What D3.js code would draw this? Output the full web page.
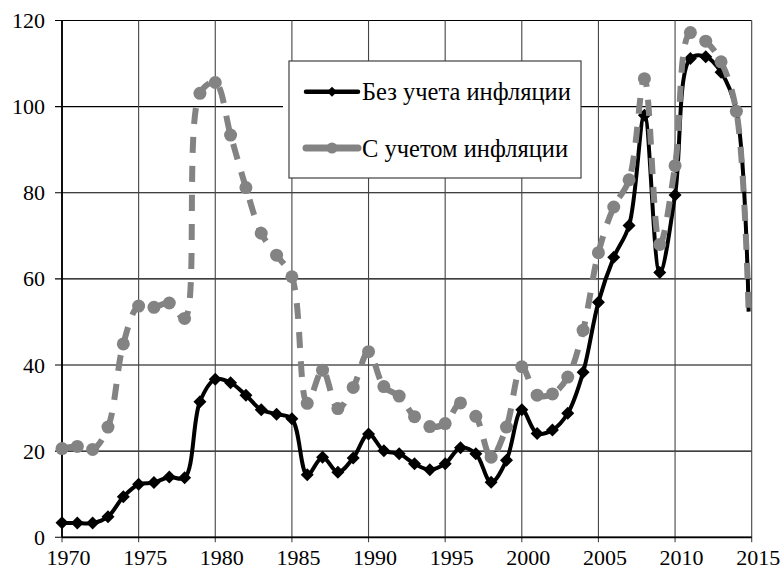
<!DOCTYPE html>
<html>
<head>
<meta charset="utf-8">
<script src="https://cdn.jsdelivr.net/npm/d3@7"></script>
<style>
    body { margin: 0; background: #fff; }
    svg { display: block; }
</style>
</head>
<body>
<div id="content"></div>
<script>
// ******* DATA *******
// last point is the partial year (no marker drawn for it)
const years = [
    1970, 1971, 1972, 1973, 1974, 1975, 1976, 1977, 1978, 1979,
    1980, 1981, 1982, 1983, 1984, 1985, 1986, 1987, 1988, 1989,
    1990, 1991, 1992, 1993, 1994, 1995, 1996, 1997, 1998, 1999,
    2000, 2001, 2002, 2003, 2004, 2005, 2006, 2007, 2008, 2009,
    2010, 2011, 2012, 2013, 2014, 2014.8
];

// без учета инфляции
const nominalPrice = [
    3.4, 3.3, 3.3, 4.8, 9.4, 12.3, 12.7, 14.0, 13.8, 31.5,
    36.7, 35.9, 33.0, 29.6, 28.6, 27.5, 14.5, 18.6, 15.1, 18.4,
    24.0, 20.1, 19.4, 17.1, 15.7, 17.1, 20.8, 19.4, 12.8, 17.9,
    29.6, 24.1, 24.9, 28.8, 38.3, 54.6, 65.0, 72.4, 98.0, 61.5,
    79.5, 111.2, 111.6, 108.0, 99.0, 52.4
];

// с учетом инфляции
const realPrice = [
    20.6, 21.1, 20.4, 25.6, 44.9, 53.7, 53.4, 54.4, 50.8, 103.1,
    105.6, 93.4, 81.2, 70.6, 65.5, 60.5, 31.1, 38.8, 29.9, 34.8,
    43.1, 35.0, 32.8, 28.0, 25.7, 26.4, 31.2, 28.1, 18.6, 25.6,
    39.6, 33.0, 33.3, 37.2, 48.1, 66.1, 76.7, 83.0, 106.5, 68.0,
    86.3, 117.2, 115.2, 110.4, 98.9, 52.2
];

const seriesNames = ["Без учета инфляции", "С учетом инфляции"];
const xTicks = [1970, 1975, 1980, 1985, 1990, 1995, 2000, 2005, 2010, 2015];
const yTicks = [0, 20, 40, 60, 80, 100, 120];


// ******* SIZES *******
const width = 784;
const height = 570;
const margin = { top: 20.5, right: 32.3, bottom: 32.7, left: 62 };
// no serif face on the render box, sans is the fallback
const FONT = "'Liberation Serif', 'Liberation Sans', Arial, sans-serif";
const GRAY = "#838383";

const svg = d3.select("#content").append("svg")
    .attr("width", width)
    .attr("height", height)
    .attr("font-family", FONT);

const x = d3.scaleLinear()
    .domain([1970, 2015])
    .range([margin.left, width - margin.right]);

const y = d3.scaleLinear()
    .domain([0, 120])
    .range([height - margin.bottom, margin.top]);


// ******* GRID + AXES *******
drawGrid();
drawAxes();


// ******* SERIES *******
const nominal = years.map((yr, i) => ({ year: yr, value: nominalPrice[i] }));
const real = years.map((yr, i) => ({ year: yr, value: realPrice[i] }));

// excel style smoothed line
const line = d3.line()
    .x(d => x(d.year))
    .y(d => y(d.value))
    .curve(d3.curveCatmullRom.alpha(0.5));

// diamond marker (square turned 45 deg)
function diamondPath(r) {
    return `M0,${-r}L${r},0L0,${r}L${-r},0Z`;
}

// black series first, gray is drawn over it
svg.append("path")
    .datum(nominal)
    .attr("fill", "none")
    .attr("stroke", "#000")
    .attr("stroke-width", 4)
    .attr("stroke-linejoin", "round")
    .attr("d", line);

svg.append("g")
    .selectAll("path")
    .data(nominal.filter(d => Number.isInteger(d.year)))
    .join("path")
    .attr("transform", d => `translate(${x(d.year)},${y(d.value)})`)
    .attr("d", diamondPath(6.5))
    .attr("fill", "#000");

svg.append("path")
    .datum(real)
    .attr("fill", "none")
    .attr("stroke", GRAY)
    .attr("stroke-width", 6)
    .attr("stroke-dasharray", "16,13")
    .attr("d", line);

svg.append("g")
    .selectAll("circle")
    .data(real.filter(d => Number.isInteger(d.year)))
    .join("circle")
    .attr("cx", d => x(d.year))
    .attr("cy", d => y(d.value))
    .attr("r", 6.5)
    .attr("fill", GRAY);


// ******* LEGEND *******
drawLegend();


function drawGrid() {
    const grid = svg.append("g").attr("id", "grid");

    // horizontal lines, run a bit left of the axis as ticks
    grid.selectAll("line.h")
        .data(yTicks)
        .join("line")
        .attr("class", "h")
        .attr("x1", margin.left - 7)
        .attr("x2", width - margin.right)
        .attr("y1", d => y(d))
        .attr("y2", d => y(d))
        .attr("stroke", "#000")
        .attr("stroke-width", 1.1);

    // vertical lines, run a bit below the axis as ticks
    grid.selectAll("line.v")
        .data(xTicks)
        .join("line")
        .attr("class", "v")
        .attr("x1", d => x(d))
        .attr("x2", d => x(d))
        .attr("y1", margin.top)
        .attr("y2", height - margin.bottom + 5)
        .attr("stroke", "#444")
        .attr("stroke-width", 1.1);

    // thicker left and bottom axis lines
    grid.append("line")
        .attr("x1", margin.left).attr("x2", margin.left)
        .attr("y1", margin.top).attr("y2", height - margin.bottom)
        .attr("stroke", "#000").attr("stroke-width", 1.8);
    grid.append("line")
        .attr("x1", margin.left).attr("x2", width - margin.right)
        .attr("y1", height - margin.bottom).attr("y2", height - margin.bottom)
        .attr("stroke", "#000").attr("stroke-width", 1.8);
}

function drawAxes() {
    const yAxis = d3.axisLeft(y)
        .tickValues(yTicks)
        .tickSize(0)
        .tickPadding(17);

    svg.append("g")
        .attr("transform", `translate(${margin.left},0)`)
        .call(yAxis)
        .attr("font-family", FONT)
        .attr("font-size", 22)
        .call(g => g.select(".domain").remove())
        .selectAll("text")
        .attr("fill", "#000");

    const xAxis = d3.axisBottom(x)
        .tickValues(xTicks)
        .tickFormat(d3.format("d"))
        .tickSize(0)
        .tickPadding(12);

    svg.append("g")
        .attr("transform", `translate(0,${height - margin.bottom})`)
        .call(xAxis)
        .attr("font-family", FONT)
        .attr("font-size", 22)
        .call(g => g.select(".domain").remove())
        .selectAll("text")
        .attr("dx", 6)
        .attr("fill", "#000");
}

function drawLegend() {
    const box = { x: 289, y: 61, w: 292, h: 117 };
    const legend = svg.append("g").attr("id", "legend");

    // white patch reaches a little past the left border
    legend.append("rect")
        .attr("x", box.x - 6)
        .attr("y", box.y)
        .attr("width", box.w + 6)
        .attr("height", box.h)
        .attr("fill", "#fff");

    legend.append("rect")
        .attr("x", box.x)
        .attr("y", box.y)
        .attr("width", box.w)
        .attr("height", box.h)
        .attr("fill", "none")
        .attr("stroke", "#404040")
        .attr("stroke-width", 1.2);

    const rows = [
        { name: seriesNames[0], cy: 91.7, color: "#000", lw: 4.5, marker: "diamond" },
        { name: seriesNames[1], cy: 148, color: GRAY, lw: 7, marker: "circle" }
    ];

    rows.forEach(r => {
        legend.append("line")
            .attr("x1", 306).attr("x2", 358)
            .attr("y1", r.cy).attr("y2", r.cy)
            .attr("stroke", r.color)
            .attr("stroke-width", r.lw)
            .attr("stroke-linecap", "round");

        if (r.marker === "diamond") {
            legend.append("path")
                .attr("transform", `translate(332,${r.cy})`)
                .attr("d", diamondPath(5))
                .attr("fill", r.color);
        } else {
            legend.append("circle")
                .attr("cx", 332)
                .attr("cy", r.cy)
                .attr("r", 5.5)
                .attr("fill", r.color);
        }

        legend.append("text")
            .attr("x", 362)
            .attr("y", r.cy)
            .attr("dy", "0.35em")
            .attr("font-size", 24.5)
            .text(r.name);
    });
}
</script>
</body>
</html>
